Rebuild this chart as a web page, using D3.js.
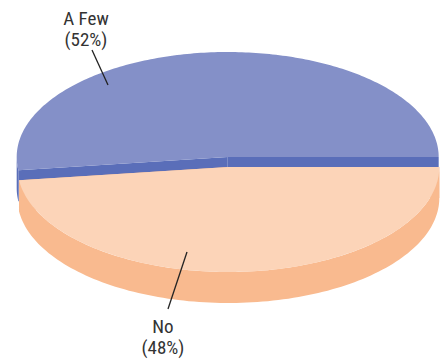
<!DOCTYPE html>
<html>
<head>
<meta charset="utf-8">
<script src="https://cdn.jsdelivr.net/npm/d3@7"></script>
<style>
  html, body { margin: 0; padding: 0; background: #fff; }
  svg { display: block; }
  text { font-family: "Liberation Sans Narrow", "Arial Narrow", "Roboto Condensed", Roboto, sans-serif; font-size: 19px; fill: #333; }
</style>
</head>
<body>
<svg id="chart" width="440" height="360"></svg>
<script>
// Survey answers and their shares
const categories = ["A Few", "No"];
const shares = [52, 48];
const labels = ["A Few\n(52%)", "No\n(48%)"];

const topColors = ["#8490c8", "#fcd4b8"];
const sideColors = ["#5a6eb9", "#f9ba8f"];

const W = 440, H = 360;
const cx = 228, cy = 162;      // pie centre on screen
const rx = 211, ry = 105;      // elliptical radii of the tilted disc
const depth = 31;              // thickness of the disc
const explode = 5;             // how far each slice is pulled out

const svg = d3.select("#chart");

// Angles run counter-clockwise from 3 o'clock (d3 angle convention: 0 at 12, clockwise)
const pie = d3.pie().sort(null).value(d => d)
  .startAngle(Math.PI / 2).endAngle(Math.PI / 2 - 2 * Math.PI);
const arcs = pie(shares);

function pt(theta, r, ox, oy, h) {
  return [ox + r * rx * Math.sin(theta), oy - r * ry * Math.cos(theta) + h];
}

function sampleAngles(a0, a1, n) {
  const out = [];
  for (let i = 0; i <= n; i++) out.push(a0 + (a1 - a0) * i / n);
  return out;
}

const line = d3.line();

arcs.forEach((a, i) => {
  const a0 = a.startAngle, a1 = a.endAngle;
  const mid = (a0 + a1) / 2;
  const ox = cx + explode * Math.sin(mid);
  const oy = cy - explode * Math.cos(mid);
  const g = svg.append("g").attr("class", "slice slice-" + i);

  // radial faces (cut sides)
  [a0, a1].forEach(th => {
    const c = [ox, oy], r = pt(th, 1, ox, oy, 0);
    const quad = [c, r, [r[0], r[1] + depth], [c[0], c[1] + depth]];
    g.append("path").attr("d", line(quad) + "Z").attr("fill", sideColors[i]);
  });

  // outer wall: only the part facing the viewer (front half of the rim)
  const lo = Math.min(a0, a1), hi = Math.max(a0, a1);
  for (let k = -2; k <= 2; k++) {
    const f0 = Math.PI / 2 + 2 * Math.PI * k, f1 = 3 * Math.PI / 2 + 2 * Math.PI * k;
    const s = Math.max(lo, f0), e = Math.min(hi, f1);
    if (e > s) {
      const angs = sampleAngles(s, e, 120);
      const upper = angs.map(t => pt(t, 1, ox, oy, 0));
      const lower = angs.slice().reverse().map(t => pt(t, 1, ox, oy, depth));
      g.append("path").attr("d", line(upper.concat(lower)) + "Z").attr("fill", sideColors[i]);
    }
  }

  // top face
  const rim = sampleAngles(a0, a1, 200).map(t => pt(t, 1, ox, oy, 0));
  g.append("path").attr("d", line([[ox, oy]].concat(rim)) + "Z").attr("fill", topColors[i]);
});

// Labels with leader lines
const labelLayout = [
  { x: 86, y: 25, from: [92, 50], to: [108, 85] },
  { x: 163, y: 333, from: [168, 309], to: [187, 252] }
];

labels.forEach((txt, i) => {
  const L = labelLayout[i];
  svg.append("line")
    .attr("x1", L.from[0]).attr("y1", L.from[1])
    .attr("x2", L.to[0]).attr("y2", L.to[1])
    .attr("stroke", "#222").attr("stroke-width", 1.3);
  const t = svg.append("text").attr("text-anchor", "middle");
  txt.split("\n").forEach((s, j) => {
    t.append("tspan").attr("x", L.x).attr("y", L.y + j * 21).text(s);
  });
});
</script>
</body>
</html>
